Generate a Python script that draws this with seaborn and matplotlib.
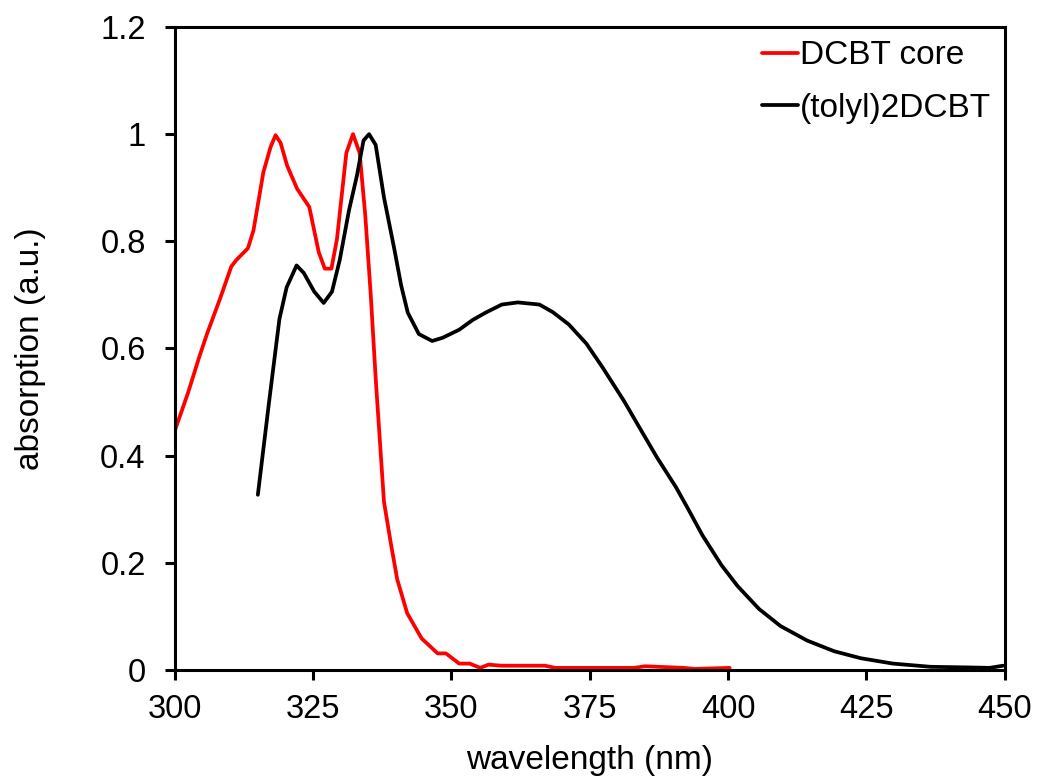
import matplotlib
matplotlib.use("Agg")
import matplotlib.pyplot as plt
import seaborn as sns
import pandas as pd

core_wl = [300, 302.4, 304.4, 305.8, 308.2, 310.2, 311.1, 313.2, 314.2, 316, 317.3, 318.2,
           319.1, 320.3, 322.1, 324.3, 326, 327.1, 328.3, 329.3, 331, 332.2, 333.4, 334.4,
           335.4, 336.3, 337.8, 339, 340.2, 342, 344.6, 347.5, 349, 351.4, 353.3, 355.2,
           356.7, 359.1, 362, 366.9, 368.8, 375, 383, 385, 392, 394, 400.3]
core_abs = [0.447, 0.518, 0.584, 0.627, 0.694, 0.753, 0.765, 0.787, 0.82, 0.929, 0.976, 0.998,
            0.984, 0.941, 0.898, 0.864, 0.78, 0.749, 0.749, 0.804, 0.965, 1.0, 0.965, 0.851,
            0.702, 0.545, 0.314, 0.239, 0.169, 0.106, 0.059, 0.031, 0.031, 0.012, 0.012, 0.004,
            0.01, 0.008, 0.008, 0.008, 0.004, 0.004, 0.004, 0.007, 0.004, 0.002, 0.004]

tolyl_wl = [315, 317, 318.9, 320.2, 322, 323.3, 325.2, 326.9, 328.4, 329.8, 331.5, 332.9,
            334.1, 335.1, 336.3, 337.8, 339.7, 340.9, 342.1, 344.1, 346.5, 348.4, 351.4,
            353.8, 356.2, 359.1, 362, 365.9, 368.3, 371.2, 374.4, 377.3, 381.2, 384.3, 387.2,
            390.6, 392.5, 395.4, 398.8, 401.7, 405.6, 409.5, 414.3, 419.2, 424, 429.8, 436.6,
            442.4, 447.3, 449.7]
tolyl_abs = [0.327, 0.498, 0.655, 0.714, 0.755, 0.741, 0.706, 0.685, 0.706, 0.765, 0.859, 0.922,
             0.988, 1.0, 0.98, 0.882, 0.784, 0.718, 0.667, 0.627, 0.614, 0.62, 0.635,
             0.653, 0.667, 0.682, 0.686, 0.682, 0.668, 0.645, 0.609, 0.565, 0.502, 0.447, 0.396,
             0.341, 0.306, 0.251, 0.196, 0.157, 0.114, 0.082, 0.055, 0.035, 0.022, 0.012, 0.006,
             0.005, 0.004, 0.008]

series_names = ["DCBT core", "(tolyl)2DCBT"]
x_ticks = [300, 325, 350, 375, 400, 425, 450]
y_ticks = [0, 0.2, 0.4, 0.6, 0.8, 1, 1.2]
y_tick_labels = ["0", "0.2", "0.4", "0.6", "0.8", "1", "1.2"]

df = pd.concat([
    pd.DataFrame({"wavelength": core_wl, "absorption": core_abs, "sample": series_names[0]}),
    pd.DataFrame({"wavelength": tolyl_wl, "absorption": tolyl_abs, "sample": series_names[1]}),
])

sns.set_theme(style="ticks")
plt.rcParams["font.family"] = ["Liberation Sans", "DejaVu Sans"]
plt.rcParams["text.color"] = "black"

fig = plt.figure(figsize=(10.41, 7.84), dpi=100)
ax = fig.add_axes([0.168, 0.1454, 0.797, 0.8202])

sns.lineplot(data=df, x="wavelength", y="absorption", hue="sample", hue_order=series_names,
             palette={series_names[0]: "#ff0000", series_names[1]: "#000000"},
             linewidth=2.7, sort=False, estimator=None, ax=ax)

ax.set_xlim(300, 450)
ax.set_ylim(0, 1.2)
ax.set_xticks(x_ticks)
ax.set_yticks(y_ticks)
ax.set_yticklabels(y_tick_labels)
ax.tick_params(axis="both", labelsize=23.5, direction="out", length=7, width=2.2,
               colors="black")
ax.tick_params(axis="x", pad=10)
ax.tick_params(axis="y", pad=14)
for s in ax.spines.values():
    s.set_linewidth(2.2)
    s.set_color("black")
ax.set_xlabel("wavelength (nm)", fontsize=24, labelpad=15, color="black")
ax.set_ylabel("absorption (a.u.)", fontsize=24, labelpad=39, color="black")

leg = ax.legend(loc="upper right", frameon=False, fontsize=24, handlelength=1.1,
                handletextpad=0.05, labelspacing=0.65, borderaxespad=0.0)
for line in leg.get_lines():
    line.set_linewidth(2.7)
for t in leg.get_texts():
    t.set_color("black")

fig.savefig("out.png", dpi=100)
